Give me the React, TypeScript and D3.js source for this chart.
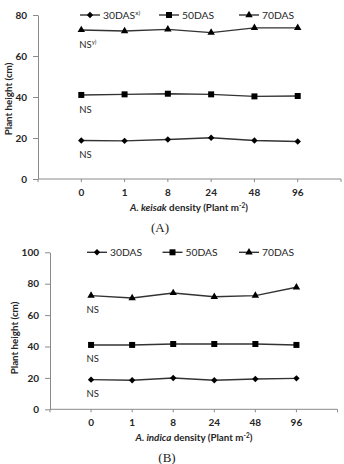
import React, { useEffect, useRef } from "react";
import * as d3 from "d3";

// x categories: weed density (plants per m²)
const densities = ["0", "1", "8", "24", "48", "96"];
const seriesNames = ["30DAS", "50DAS", "70DAS"];

// plant height (cm) under A. keisak density
const keisak30 = [18.8, 18.6, 19.3, 20.1, 18.8, 18.3];
const keisak50 = [41.0, 41.3, 41.6, 41.3, 40.3, 40.5];
const keisak70 = [72.7, 72.2, 73.0, 71.4, 73.7, 73.7];
const keisakTicks = [0, 20, 40, 60, 80];

// plant height (cm) under A. indica density
const indica30 = [18.9, 18.5, 19.9, 18.5, 19.3, 19.7];
const indica50 = [41.0, 41.0, 41.6, 41.6, 41.6, 41.0];
const indica70 = [72.4, 70.9, 74.1, 71.7, 72.4, 77.7];
const indicaTicks = [0, 20, 40, 60, 80, 100];

const FONT = "Lato, 'Open Sans', sans-serif";
const LINE = "#333";
const AXIS = "#8a8a8a";
const TEXT = "#262626";

const symbols = [d3.symbolDiamond2, d3.symbolSquare, d3.symbolTriangle];
const symbolSizes = [26, 36, 24];

type Panel = {
  left: number;
  right: number;
  top: number;
  bottom: number;
  ticks: number[];
  series: number[][];
  legendX: number[];
  species: string;
  titleX: number;
  yLabelX: number;
  yLabelY: number;
  nsDx: number;
  nsDy: number;
  firstNote: boolean;
  caption: string;
  captionX: number;
};

const panels: Panel[] = [
  {
    left: 38, right: 341, top: 15, bottom: 179,
    ticks: keisakTicks,
    series: [keisak30, keisak50, keisak70],
    legendX: [90, 169, 249],
    species: "A. keisak",
    titleX: 189,
    yLabelX: 12, yLabelY: 99,
    nsDx: -2, nsDy: 18,
    firstNote: true,
    caption: "(A)", captionX: 160,
  },
  {
    left: 50, right: 337.5, top: 252.3, bottom: 409.3,
    ticks: indicaTicks,
    series: [indica30, indica50, indica70],
    legendX: [97, 172.5, 249],
    species: "A. indica",
    titleX: 194,
    yLabelX: 18, yLabelY: 338,
    nsDx: -4.5, nsDy: 17,
    firstNote: false,
    caption: "(B)", captionX: 167,
  },
];

function drawPanel(svg: d3.Selection<SVGSVGElement, unknown, null, undefined>, p: Panel) {
  const g = svg.append("g");
  const x = d3.scalePoint<string>().domain(densities).range([p.left, p.right]).padding(1);
  const y = d3.scaleLinear().domain([0, d3.max(p.ticks) as number]).range([p.bottom, p.top]);

  // y axis
  const yAxis = g.append("g")
    .attr("transform", `translate(${p.left},0)`)
    .call(d3.axisLeft(y).tickValues(p.ticks).tickSize(5).tickSizeOuter(0).tickPadding(6));
  yAxis.select(".domain").attr("stroke", AXIS);
  yAxis.selectAll(".tick line").attr("stroke", AXIS);
  yAxis.selectAll(".tick text")
    .attr("font-family", FONT).attr("font-weight", 700).attr("font-size", 10).attr("fill", TEXT);

  // x axis with ticks at each category and both ends
  const y0 = y(0);
  g.append("line")
    .attr("x1", p.left).attr("x2", p.right).attr("y1", y0).attr("y2", y0)
    .attr("stroke", AXIS);
  const tickXs = [p.left, ...densities.map((d) => x(d) as number), p.right];
  g.selectAll(".xtick").data(tickXs).enter().append("line")
    .attr("x1", (d) => d).attr("x2", (d) => d)
    .attr("y1", y0).attr("y2", y0 + 3)
    .attr("stroke", AXIS);
  g.selectAll(".xlabel").data(densities).enter().append("text")
    .attr("x", (d) => x(d) as number).attr("y", y0 + 16.5)
    .attr("text-anchor", "middle")
    .attr("font-family", FONT).attr("font-weight", 700).attr("font-size", 10).attr("fill", TEXT)
    .text((d) => d);

  // axis titles
  const title = g.append("text")
    .attr("x", p.titleX).attr("y", y0 + 32)
    .attr("text-anchor", "middle")
    .attr("font-family", FONT).attr("font-weight", 700).attr("font-size", 9.8).attr("fill", TEXT);
  title.append("tspan").attr("font-style", "italic").text(p.species);
  title.append("tspan").text(" density (Plant m");
  title.append("tspan").attr("font-size", 6.5).attr("dy", -3.5).text("-2");
  title.append("tspan").attr("dy", 3.5).text(")");

  g.append("text")
    .attr("transform", `translate(${p.yLabelX},${p.yLabelY}) rotate(-90)`)
    .attr("text-anchor", "middle")
    .attr("font-family", FONT).attr("font-weight", 700).attr("font-size", 9.8).attr("fill", TEXT)
    .text("Plant height (cm)");

  // series lines and markers
  const line = d3.line<number>()
    .x((_, i) => x(densities[i]) as number)
    .y((d) => y(d));
  p.series.forEach((vals, s) => {
    g.append("path")
      .attr("d", line(vals))
      .attr("fill", "none").attr("stroke", LINE).attr("stroke-width", 1.4);
    g.selectAll(`.m${s}`).data(vals).enter().append("path")
      .attr("transform", (d, i) => `translate(${x(densities[i])},${y(d)})`)
      .attr("d", d3.symbol().type(symbols[s]).size(symbolSizes[s])())
      .attr("fill", "#000");

    // NS annotation under each series
    const ns = g.append("text")
      .attr("x", (x(densities[0]) as number) + p.nsDx)
      .attr("y", y(vals[0]) + p.nsDy)
      .attr("font-family", FONT).attr("font-size", 9.5).attr("fill", TEXT)
      .text("NS");
    if (p.firstNote && s === 2) {
      ns.append("tspan").attr("font-size", 6).attr("dy", -3.5).text("y)");
    }
  });

  // legend
  const ly = p.top;
  seriesNames.forEach((name, s) => {
    const lx = p.legendX[s];
    g.append("line")
      .attr("x1", lx - 10).attr("x2", lx + 10).attr("y1", ly).attr("y2", ly)
      .attr("stroke", LINE).attr("stroke-width", 1.4);
    g.append("path")
      .attr("transform", `translate(${lx},${ly})`)
      .attr("d", d3.symbol().type(symbols[s]).size(symbolSizes[s])())
      .attr("fill", "#000");
    const t = g.append("text")
      .attr("x", lx + 13).attr("y", ly + 3.7)
      .attr("font-family", FONT).attr("font-size", 10.3).attr("fill", TEXT)
      .text(name);
    if (p.firstNote && s === 0) {
      t.append("tspan").attr("font-size", 6.5).attr("dy", -3.5).text("x)");
    }
  });

  g.append("text")
    .attr("x", p.captionX).attr("y", y0 + 53)
    .attr("text-anchor", "middle")
    .attr("font-family", "'Liberation Serif', 'DejaVu Serif', serif").attr("font-size", 13).attr("fill", "#222")
    .text(p.caption);
}

export default function App() {
  const ref = useRef<SVGSVGElement>(null);

  useEffect(() => {
    if (!ref.current) return;
    const svg = d3.select(ref.current);
    svg.selectAll("*").remove();
    panels.forEach((p) => drawPanel(svg, p));
  }, []);

  return (
    <svg
      ref={ref}
      width={344}
      height={464}
      style={{ position: "fixed", left: 0, top: 0, background: "#fff" }}
    />
  );
}
